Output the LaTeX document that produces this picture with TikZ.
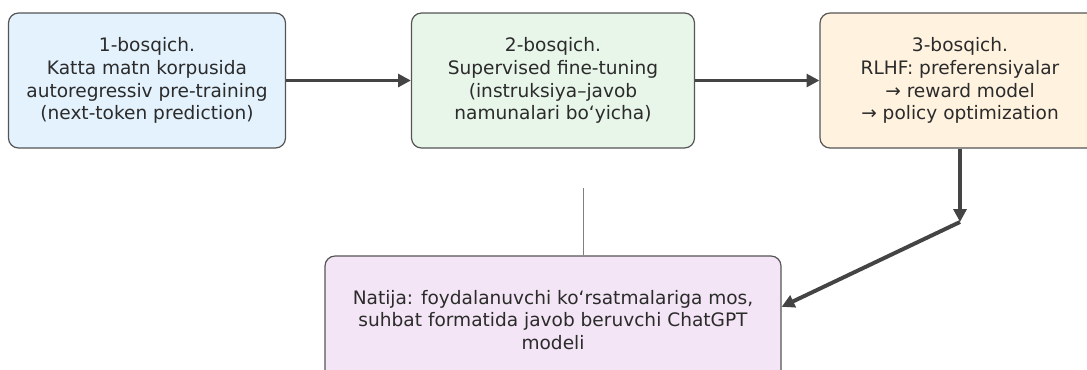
\documentclass[tikz,border=0pt]{standalone}
\usepackage{fontspec}
\setmainfont{DejaVu Sans}
\usepackage{tikz}
\usetikzlibrary{arrows.meta}

\definecolor{stageblue}{HTML}{E3F2FD}
\definecolor{stagegreen}{HTML}{E8F5E9}
\definecolor{stageorange}{HTML}{FFF3E0}
\definecolor{resultpurple}{HTML}{F3E5F5}
\definecolor{edgegray}{HTML}{555555}
\definecolor{arrowgray}{HTML}{444444}
\definecolor{textgray}{HTML}{2B2B2B}

\begin{document}
\begin{tikzpicture}[
		stagebox/.style={align=center, draw=edgegray, line width=0.85pt, rounded corners=2.5mm, minimum height=3.375cm, text=textgray, font=\fontsize{13.2}{16.2}\selectfont},
		flow/.style={->, color=arrowgray, line width=2.8pt},
		>={Triangle[length=3.2mm, width=3.2mm]}
	]
		\useasboundingbox (0,0) rectangle (27.175,-9.225);

		\node[stagebox, fill=stageblue, minimum width=6.925cm] (pretrain) at (3.675,-2.0125) {
			1-bosqich.
			\\
			Katta matn korpusida
			\\
			autoregressiv pre-training
			\\
			(next-token prediction)
		};

		\node[stagebox, fill=stagegreen, minimum width=7.075cm] (sft) at (13.825,-2.0125) {
			2-bosqich.
			\\
			Supervised fine-tuning
			\\
			(instruksiya–javob
			\\
			namunalari bo‘yicha)
		};

		\node[stagebox, fill=stageorange, minimum width=7.0cm] (rlhf) at (24.0,-2.0125) {
			3-bosqich.
			\\
			RLHF: preferensiyalar
			\\
			→ reward model
			\\
			→ policy optimization
		};

		\node[stagebox, fill=resultpurple, minimum width=11.4cm, minimum height=3.2cm] (result) at (13.825,-8.0) {
			Natija: foydalanuvchi ko‘rsatmalariga mos,
			\\
			suhbat formatida javob beruvchi ChatGPT
			\\
			modeli
		};

		\coordinate (bend) at (24.0,-5.55);
		\coordinate (stub) at (14.575,-4.7);


		\draw[flow] (pretrain) -- (sft);
		\draw[flow] (sft) -- (rlhf);

		\draw[flow] (rlhf.south) -- (bend);
		\draw[flow] (bend) -- ([yshift=0.33cm]result.east);

		\draw[color=gray, line width=0.5pt] (stub) -- (stub |- result.north);

	\end{tikzpicture}
\end{document}
